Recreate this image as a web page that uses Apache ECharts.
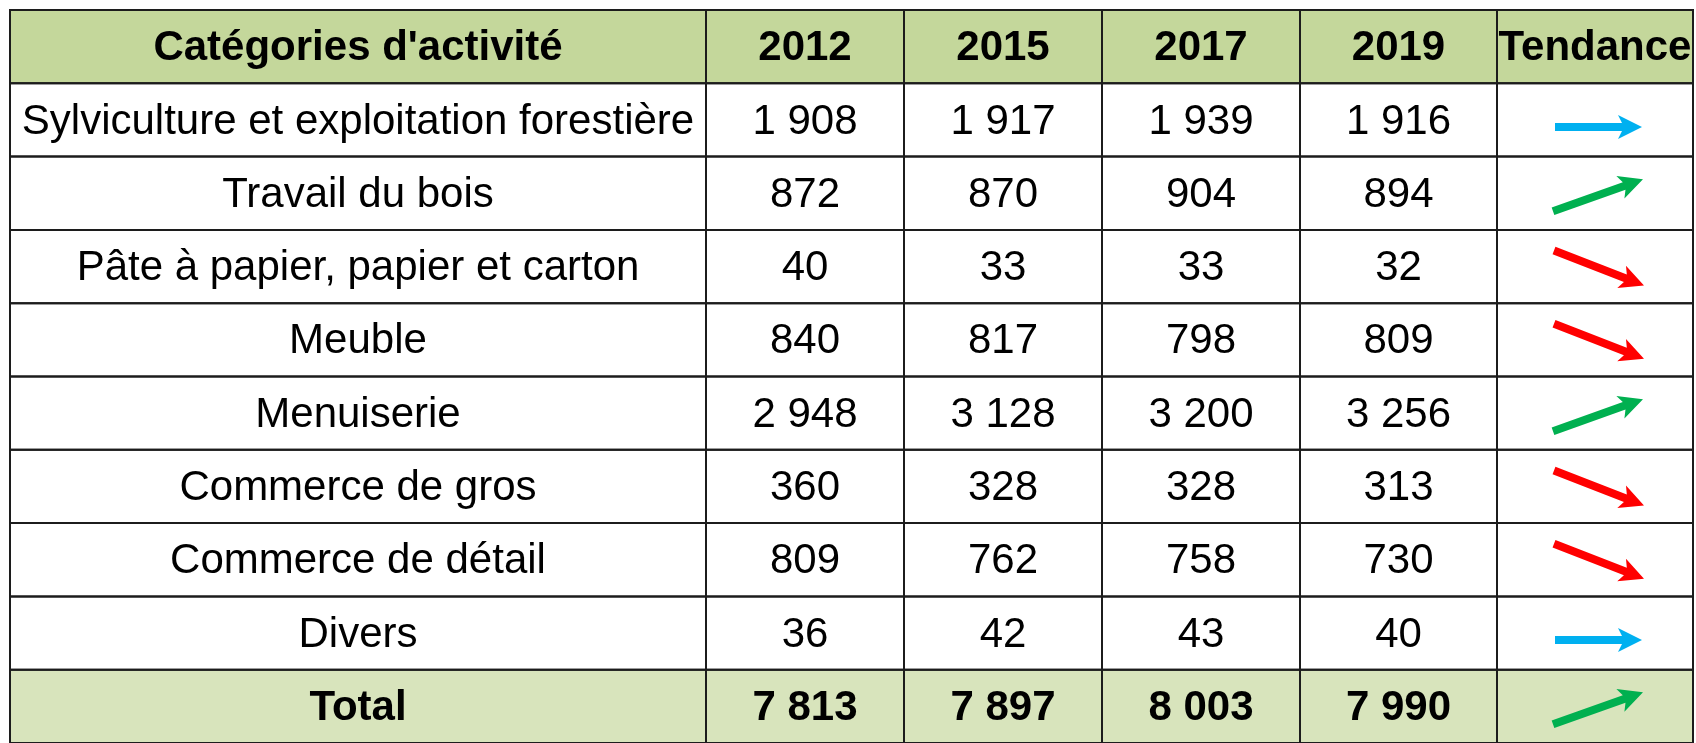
<!DOCTYPE html>
<html>
<head>
<meta charset="utf-8">
<title>Catégories d'activité</title>
<script src="https://cdn.jsdelivr.net/npm/echarts@6.0.0/dist/echarts.min.js"></script>
<style>
  html, body { margin: 0; padding: 0; background: #ffffff; }
  #chart { width: 1696px; height: 743px; }
</style>
</head>
<body>
<div id="chart"></div>
<script>
// données du tableau
const headers = ["Catégories d'activité", '2012', '2015', '2017', '2019', 'Tendance'];
const categories = [
    'Sylviculture et exploitation forestière',
    'Travail du bois',
    'Pâte à papier, papier et carton',
    'Meuble',
    'Menuiserie',
    'Commerce de gros',
    'Commerce de détail',
    'Divers'
];
const values2012 = [1908, 872, 40, 840, 2948, 360, 809, 36];
const values2015 = [1917, 870, 33, 817, 3128, 328, 762, 42];
const values2017 = [1939, 904, 33, 798, 3200, 328, 758, 43];
const values2019 = [1916, 894, 32, 809, 3256, 313, 730, 40];
const totalLabel = 'Total';
const totals = [7813, 7897, 8003, 7990];
// 1 = hausse, 0 = stable, -1 = baisse (une par ligne + total)
const trends = [0, 1, -1, -1, 1, -1, -1, 0, 1];

// mise en page (largeurs de colonnes en px)
const colWidths = [696, 198, 198, 198, 197, 196];
const colEdges = colWidths.reduce((acc, w) => { acc.push(acc[acc.length - 1] + w); return acc; }, [0]);
const tableWidth = colEdges[colEdges.length - 1];
const rowHeight = 73.7;

const fmt = n => String(n).replace(/\B(?=(\d{3})+(?!\d))/g, ' ');

const rows = [headers]
    .concat(categories.map((c, i) => [c, fmt(values2012[i]), fmt(values2015[i]), fmt(values2017[i]), fmt(values2019[i]), '']))
    .concat([[totalLabel].concat(totals.map(fmt), [''])]);
const nRows = rows.length;

const cellData = [];
rows.forEach((row, r) => row.forEach((txt, c) => cellData.push({ value: [c, r], text: txt })));

const arrowData = trends.map((t, i) => [colEdges[5] + colWidths[5] / 2, i + 1.5, t]);

const chart = echarts.init(document.getElementById('chart'));

function renderCell(params, api) {
    const c = api.value(0);
    const r = api.value(1);
    const p0 = api.coord([colEdges[c], r]);
    const p1 = api.coord([colEdges[c + 1], r + 1]);
    const x = p0[0], y = p0[1], w = p1[0] - p0[0], h = p1[1] - p0[1];
    const isHeader = r === 0;
    const isTotal = r === nRows - 1;
    const fill = isHeader ? '#C4D79B' : (isTotal ? '#D8E4BC' : '#ffffff');
    const bold = isHeader || isTotal;
    return {
        type: 'group',
        children: [
            { type: 'rect', shape: { x, y, width: w, height: h }, style: { fill: fill }, z2: 0 },
            {
                type: 'rect', shape: { x, y, width: w, height: h },
                style: { fill: null, stroke: '#1c1c1c', lineWidth: 2 }, z2: 10
            },
            {
                type: 'text', z2: 20,
                style: {
                    x: x + w / 2, y: y + h / 2 + 2,
                    text: cellData[params.dataIndex].text,
                    align: 'center', verticalAlign: 'middle',
                    fill: '#000000',
                    font: (bold ? 'bold 42px' : '42px') + ' "Liberation Sans", Arial, sans-serif'
                }
            }
        ]
    };
}

function arrowPoints(s, e) {
    const dx = e[0] - s[0], dy = e[1] - s[1];
    const len = Math.sqrt(dx * dx + dy * dy);
    const ux = dx / len, uy = dy / len;
    const nx = -uy, ny = ux;
    const w = 4, hl = 24, hw = 12, notch = 4;
    const b = [e[0] - ux * (hl - notch), e[1] - uy * (hl - notch)];
    const hb = [e[0] - ux * hl, e[1] - uy * hl];
    return [
        [s[0] + nx * w, s[1] + ny * w],
        [b[0] + nx * w, b[1] + ny * w],
        [hb[0] + nx * hw, hb[1] + ny * hw],
        e,
        [hb[0] - nx * hw, hb[1] - ny * hw],
        [b[0] - nx * w, b[1] - ny * w],
        [s[0] - nx * w, s[1] - ny * w]
    ];
}

function renderArrow(params, api) {
    const t = api.value(2);
    const c = api.coord([api.value(0), api.value(1)]);
    const cx = c[0] + 3, cy = c[1];
    let s, e, color;
    if (t > 0) {
        s = [cx - 45, cy + 18]; e = [cx + 45, cy - 14]; color = '#00B050';
    } else if (t < 0) {
        s = [cx - 44, cy - 16]; e = [cx + 46, cy + 19]; color = '#FF0000';
    } else {
        s = [cx - 43, cy + 7]; e = [cx + 44, cy + 7]; color = '#00B0F0';
    }
    return {
        type: 'polygon', z2: 30,
        shape: { points: arrowPoints(s, e) },
        style: { fill: color }
    };
}

const option = {
    animation: false,
    backgroundColor: '#ffffff',
    grid: { left: 10, top: 10, width: tableWidth, height: rowHeight * nRows },
    xAxis: { type: 'value', min: 0, max: tableWidth, show: false },
    yAxis: { type: 'value', min: 0, max: nRows, inverse: true, show: false },
    series: [
        {
            type: 'custom',
            renderItem: renderCell,
            data: cellData,
            clip: false
        },
        {
            type: 'custom',
            renderItem: renderArrow,
            data: arrowData,
            clip: false,
            z: 3
        }
    ]
};

chart.setOption(option);
window.addEventListener('resize', chart.resize);
</script>
</body>
</html>
